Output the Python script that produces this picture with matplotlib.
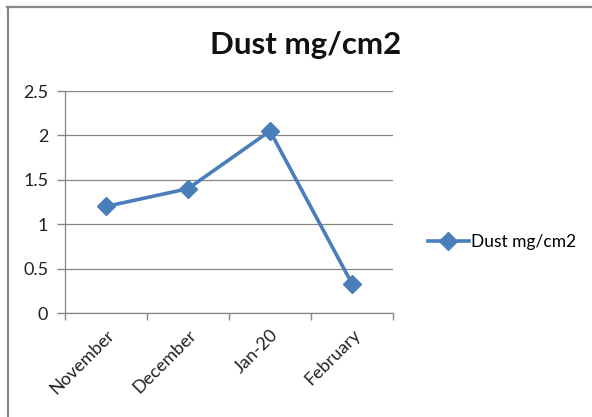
import matplotlib.pyplot as plt
from matplotlib.lines import Line2D

months = ["November", "December", "Jan-20", "February"]
dust = [1.2, 1.4, 2.05, 0.33]
yticks = [0, 0.5, 1, 1.5, 2, 2.5]
yticklabels = ["0", "0.5", "1", "1.5", "2", "2.5"]

plt.rcParams['font.family'] = ['Lato', 'DejaVu Sans']
blue = '#4A7EBB'
gray = '#868686'

fig = plt.figure(figsize=(5.92, 4.17), dpi=100)
ax = fig.add_axes([65 / 592, 104 / 417, 328 / 592, 222 / 417])

x = list(range(len(months)))
ax.plot(x, dust, color=blue, lw=2.6, marker='D', markersize=9.5,
        label="Dust mg/cm2", zorder=3)

ax.set_xlim(-0.5, len(months) - 0.5)
ax.set_ylim(0, 2.5)
ax.set_yticks(yticks)
ax.set_yticklabels(yticklabels)

# category boundaries as major ticks, labels on minor ticks
ax.set_xticks([i - 0.5 for i in range(len(months) + 1)])
ax.set_xticklabels([])
ax.set_xticks(x, minor=True)
ax.set_xticklabels(months, minor=True, rotation=45, ha='right',
                   rotation_mode='anchor', fontsize=13, color='#222222')
ax.tick_params(axis='x', which='minor', length=0, pad=10)
ax.tick_params(axis='x', which='major', length=5, color=gray, width=1)
ax.tick_params(axis='y', length=6, color=gray, width=1, labelsize=13,
               labelcolor='#222222', pad=6)

ax.grid(axis='y', color=gray, lw=0.9)
ax.set_axisbelow(True)
for s in ['top', 'right']:
    ax.spines[s].set_visible(False)
for s in ['left', 'bottom']:
    ax.spines[s].set_color(gray)
    ax.spines[s].set_linewidth(0.9)

fig.text(0.516, 0.892, "Dust mg/cm2", ha='center', va='center',
         fontsize=22.5, fontweight='bold', color='#111111')

fig.legend(loc='center left', bbox_to_anchor=(412 / 592, 1 - 242 / 417),
           frameon=False, fontsize=12.5, handlelength=2.4, handletextpad=0.1)

# chart frame (only top and left edges visible)
fig.add_artist(Line2D([7 / 592, 1], [1 - 7 / 417, 1 - 7 / 417],
                      transform=fig.transFigure, color='#888888', lw=1.6))
fig.add_artist(Line2D([8 / 592, 8 / 592], [0, 1 - 7 / 417],
                      transform=fig.transFigure, color='#888888', lw=1.6))

fig.savefig('out.png', dpi=100)
